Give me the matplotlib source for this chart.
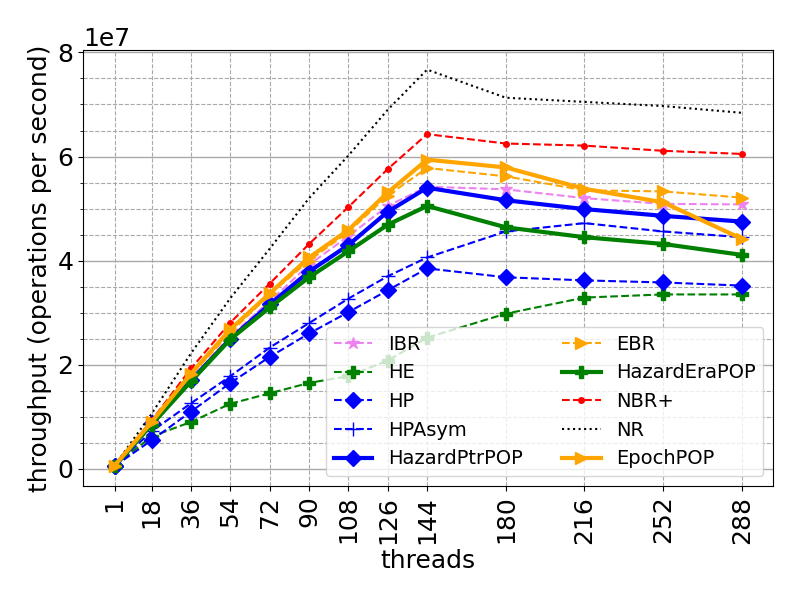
import matplotlib
matplotlib.use("Agg")
import matplotlib.pyplot as plt
from matplotlib.ticker import MultipleLocator

threads = [1, 18, 36, 54, 72, 90, 108, 126, 144, 180, 216, 252, 288]

# throughput in units of 1e7 ops/s
ibr = [0.06, 0.88, 1.72, 2.55, 3.22, 3.92, 4.47, 5.05, 5.42, 5.37, 5.20, 5.09, 5.08]
he = [0.06, 0.62, 0.90, 1.25, 1.45, 1.65, 1.78, 2.08, 2.52, 2.98, 3.29, 3.35, 3.35]
hp = [0.05, 0.55, 1.10, 1.65, 2.15, 2.60, 3.01, 3.43, 3.85, 3.68, 3.62, 3.58, 3.52]
hpasym = [0.06, 0.72, 1.26, 1.78, 2.33, 2.80, 3.27, 3.70, 4.06, 4.56, 4.72, 4.56, 4.45]
hazardptrpop = [0.05, 0.87, 1.70, 2.50, 3.16, 3.79, 4.30, 4.94, 5.40, 5.16, 4.99, 4.86, 4.75]
ebr = [0.06, 0.90, 1.80, 2.62, 3.35, 4.00, 4.55, 5.25, 5.78, 5.62, 5.35, 5.33, 5.21]
hazarderapop = [0.05, 0.85, 1.68, 2.49, 3.10, 3.68, 4.18, 4.69, 5.05, 4.64, 4.45, 4.32, 4.11]
nbrplus = [0.06, 0.93, 1.93, 2.81, 3.56, 4.32, 5.03, 5.76, 6.43, 6.25, 6.21, 6.11, 6.05]
nr = [0.06, 1.06, 2.22, 3.28, 4.23, 5.20, 6.02, 6.90, 7.67, 7.13, 7.05, 6.97, 6.84]
epochpop = [0.06, 0.90, 1.83, 2.68, 3.37, 4.06, 4.59, 5.31, 5.94, 5.79, 5.38, 5.12, 4.42]

SCALE = 1e7


def s(vals):
    return [v * SCALE for v in vals]


plt.rcParams['font.size'] = 18

fig, ax = plt.subplots(figsize=(8, 6), dpi=100)
fig.subplots_adjust(left=0.104, right=0.9665, top=0.917, bottom=0.19)

ax.plot(threads, s(ibr), color='violet', linestyle='--', marker='*', markersize=9, label='IBR')
ax.plot(threads, s(he), color='green', linestyle='--', marker='P', markersize=9, label='HE')
ax.plot(threads, s(hp), color='blue', linestyle='--', marker='D', markersize=8, label='HP')
ax.plot(threads, s(hpasym), color='blue', linestyle='--', marker='+', markersize=10, label='HPAsym')
ax.plot(threads, s(hazardptrpop), color='blue', linestyle='-', linewidth=3, marker='D', markersize=8,
        label='HazardPtrPOP')
ax.plot(threads, s(ebr), color='orange', linestyle='--', marker='>', markersize=9, label='EBR')
ax.plot(threads, s(hazarderapop), color='green', linestyle='-', linewidth=3, marker='P', markersize=9,
        label='HazardEraPOP')
ax.plot(threads, s(nbrplus), color='red', linestyle='--', marker='.', markersize=8, label='NBR+')
ax.plot(threads, s(nr), color='black', linestyle=':', label='NR')
ax.plot(threads, s(epochpop), color='orange', linestyle='-', linewidth=3, marker='>', markersize=9,
        label='EpochPOP')

ax.set_xticks(threads)
ax.set_xticklabels([str(t) for t in threads], rotation=90)
ax.yaxis.set_major_locator(MultipleLocator(2e7))
ax.yaxis.set_minor_locator(MultipleLocator(0.5e7))

ax.yaxis.grid(which='major', linestyle='-', color='darkgray', linewidth=1)
ax.yaxis.grid(which='minor', linestyle='--', color='darkgray', linewidth=0.8)
ax.xaxis.grid(which='major', linestyle='--', color='darkgray', linewidth=0.8)
ax.set_axisbelow(True)

ax.set_xlabel('threads')
ax.set_ylabel('throughput (operations per second)')
ax.legend(ncol=2, loc='lower right', fontsize=14)

fig.savefig('out.png', dpi=100)
